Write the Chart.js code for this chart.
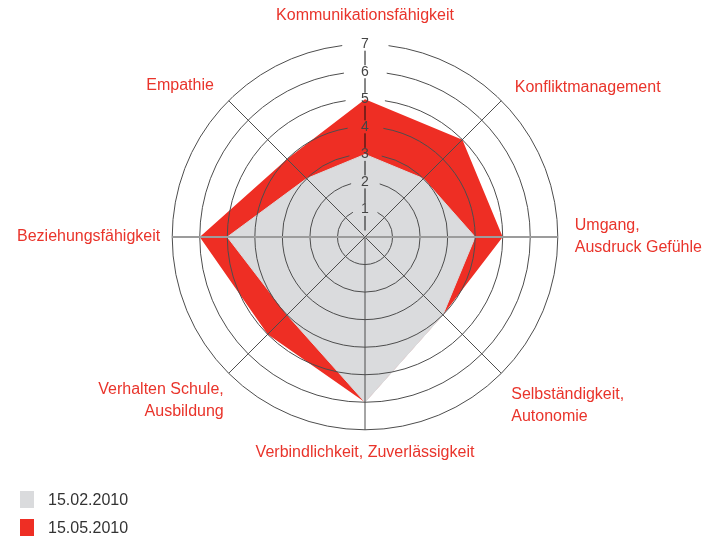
<!DOCTYPE html>
<html>
<head>
<meta charset="utf-8">
<script src="https://cdn.jsdelivr.net/npm/chart.js@4/dist/chart.umd.min.js"></script>
<style>
html,body{margin:0;padding:0;background:#ffffff;}
#wrap{width:715px;height:539px;position:relative;}
canvas{display:block;}
</style>
</head>
<body>
<div id="wrap"><canvas id="c" width="715" height="539"></canvas></div>
<script>
// ---- data ----
const categories = [
  'Kommunikationsfähigkeit',
  'Konfliktmanagement',
  ['Umgang,', 'Ausdruck Gefühle'],
  ['Selbständigkeit,', 'Autonomie'],
  'Verbindlichkeit, Zuverlässigkeit',
  ['Verhalten Schule,', 'Ausbildung'],
  'Beziehungsfähigkeit',
  'Empathie'
];
const seriesLabels = ['15.02.2010', '15.05.2010'];
const valuesFeb = [3, 3, 4, 4, 6, 4, 5, 3];
const valuesMay = [5, 5, 5, 4, 6, 5, 6, 4];
const tickValues = [1, 2, 3, 4, 5, 6, 7];

// ---- styles ----
const FONT = '"Liberation Sans", Arial, sans-serif';
const GREY = '#dadbdd';
const RED = '#ee2e24';
const LABEL_RED = '#e9342b';
const labelPadding = [10, 10, 8, 5, 4, -2, 3, 12];
const labelLineHeight = [1.2, 0, '22px', '22px', 1.2, '22px', 1.2, 0];

function ringGap(v) { return 22 + 3.5 * v; }

const stackedLegend = {
  id: 'stackedLegend',
  afterDraw(chart, args, o) {
    const ctx = chart.ctx;
    ctx.save();
    ctx.font = o.fontSize + 'px ' + FONT;
    ctx.textBaseline = 'middle';
    ctx.textAlign = 'left';
    chart.data.datasets.forEach((ds, i) => {
      const y = o.top + i * o.rowHeight;
      ctx.fillStyle = ds.backgroundColor;
      ctx.fillRect(o.left, y, o.boxWidth, o.boxHeight);
      ctx.fillStyle = o.color;
      ctx.fillText(ds.label, o.left + o.textOffset, y + o.boxHeight / 2 + 1);
    });
    ctx.restore();
  }
};

new Chart(document.getElementById('c'), {
  type: 'radar',
  data: {
    labels: categories,
    datasets: [
      { label: seriesLabels[0], data: valuesFeb, backgroundColor: GREY, borderColor: GREY, borderWidth: 1, fill: true },
      { label: seriesLabels[1], data: valuesMay, backgroundColor: RED, borderColor: 'rgba(0,0,0,0)', borderWidth: 0, fill: true }
    ]
  },
  options: {
    responsive: false,
    animation: false,
    devicePixelRatio: 1,
    layout: { padding: { left: 11, right: 7, top: 0, bottom: 70 } },
    elements: {
      line: { tension: 0 },
      point: { radius: 0, hitRadius: 0, hoverRadius: 0 }
    },
    plugins: {
      legend: { display: false },
      tooltip: { enabled: false },
      stackedLegend: { left: 20, top: 491, rowHeight: 28, boxWidth: 14, boxHeight: 17, textOffset: 28, color: '#333333', fontSize: 16 }
    },
    scales: {
      r: {
        min: 0,
        max: tickValues[tickValues.length - 1],
        ticks: {
          stepSize: 1,
          z: 2,
          showLabelBackdrop: false,
          color: '#444444',
          font: { size: 14, family: FONT },
          callback: (v) => tickValues.includes(v) ? String(v) : ''
        },
        grid: { circular: true, color: '#4d4d4d', lineWidth: 1, z: 1 },
        border: {
          dash: (c) => {
            const s = c.scale; const v = c.tick ? c.tick.value : 0;
            const r = s.getDistanceFromCenterForValue(v);
            const g = ringGap(v);
            return [Math.max(2 * Math.PI * r - g, 1), g];
          },
          dashOffset: (c) => {
            const s = c.scale; const v = c.tick ? c.tick.value : 0;
            const r = s.getDistanceFromCenterForValue(v);
            return 0.5 * Math.PI * r - ringGap(v) / 2;
          }
        },
        angleLines: {
          color: (c) => c.index === 0 ? '#111111' : (c.index % 4 === 2 ? '#9c9c9c' : '#4d4d4d'),
          lineWidth: (c) => c.index % 4 === 2 ? 2 : 1,
          borderDash: (c) => {
            if (c.index !== 0) return [];
            const per = c.scale.drawingArea / 7;
            return [per - 13, 13];
          },
          borderDashOffset: (c) => {
            if (c.index !== 0) return 0;
            const per = c.scale.drawingArea / 7;
            return per - 6.5;
          }
        },
        pointLabels: {
          color: LABEL_RED,
          font: (c) => ({ size: 16, family: FONT, lineHeight: labelLineHeight[c.index] }),
          padding: (c) => labelPadding[c.index]
        }
      }
    }
  },
  plugins: [stackedLegend]
});
</script>
</body>
</html>
